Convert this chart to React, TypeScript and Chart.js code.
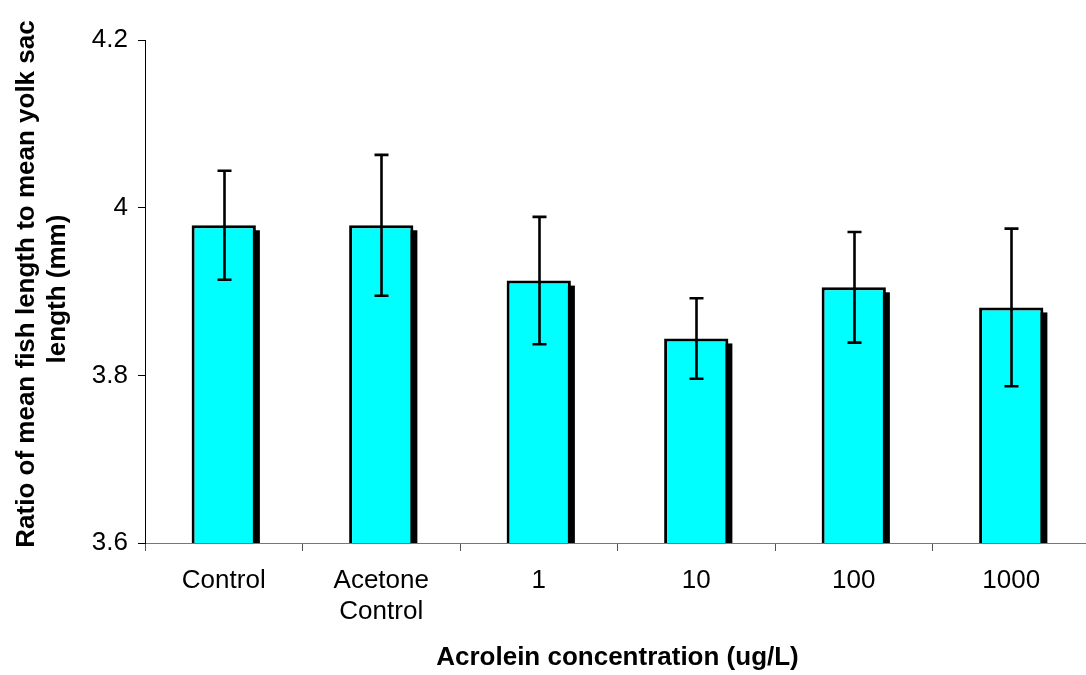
import React, { useEffect, useRef } from "react";
import { Chart, registerables } from "chart.js";

Chart.register(...registerables);

// Data
const categories: (string | string[])[] = ["Control", ["Acetone", "Control"], "1", "10", "100", "1000"];
const meanRatio = [3.979, 3.979, 3.913, 3.844, 3.905, 3.881];
const errorSize = [0.065, 0.084, 0.076, 0.048, 0.066, 0.094];
const yTicks = [3.6, 3.8, 4.0, 4.2];
const xTitle = "Acrolein concentration (ug/L)";
const yTitleLines = ["Ratio of mean fish length to mean yolk sac", "length (mm)"];

const FONT = '"Liberation Sans", Arial, sans-serif';

// Solid drop shadow behind each bar
const barShadow = {
  id: "barShadow",
  beforeDatasetsDraw(chart: any) {
    const { ctx, chartArea } = chart;
    const meta = chart.getDatasetMeta(0);
    ctx.save();
    ctx.beginPath();
    ctx.rect(chartArea.left, chartArea.top, chartArea.right - chartArea.left, chartArea.bottom - chartArea.top);
    ctx.clip();
    ctx.fillStyle = "#000";
    meta.data.forEach((bar: any) => {
      const w = bar.width;
      ctx.fillRect(bar.x - w / 2 + 4, bar.y + 5, w, bar.base - bar.y - 5);
    });
    ctx.restore();
  },
};

// Error bars with flat caps
const errorBars = {
  id: "errorBars",
  afterDatasetsDraw(chart: any) {
    const { ctx } = chart;
    const yScale = chart.scales.y;
    const meta = chart.getDatasetMeta(0);
    ctx.save();
    ctx.strokeStyle = "#000";
    ctx.lineWidth = 2.6;
    meta.data.forEach((bar: any, i: number) => {
      const x = Math.round(bar.x) + 0.5;
      const yHi = yScale.getPixelForValue(meanRatio[i] + errorSize[i]);
      const yLo = yScale.getPixelForValue(meanRatio[i] - errorSize[i]);
      ctx.beginPath();
      ctx.moveTo(x, yHi);
      ctx.lineTo(x, yLo);
      ctx.moveTo(x - 7, yHi);
      ctx.lineTo(x + 7, yHi);
      ctx.moveTo(x - 7, yLo);
      ctx.lineTo(x + 7, yLo);
      ctx.stroke();
    });
    ctx.restore();
  },
};

// Axis titles
const axisTitles = {
  id: "axisTitles",
  afterDraw(chart: any) {
    const { ctx, chartArea } = chart;
    ctx.save();
    ctx.fillStyle = "#000";
    ctx.font = `bold 26px ${FONT}`;
    ctx.textAlign = "center";
    ctx.textBaseline = "alphabetic";
    ctx.fillText(xTitle, (chartArea.left + chartArea.right) / 2, 665);

    const lineX = [34, 65];
    const lineY = [284, 289];
    yTitleLines.forEach((line, i) => {
      ctx.save();
      ctx.translate(lineX[i], lineY[i]);
      ctx.rotate(-Math.PI / 2);
      ctx.fillText(line, 0, 0);
      ctx.restore();
    });
    ctx.restore();
  },
};

export default function App() {
  const canvasRef = useRef<HTMLCanvasElement>(null);

  useEffect(() => {
    if (!canvasRef.current) return;
    const chart = new Chart(canvasRef.current, {
      type: "bar",
      data: {
        labels: categories,
        datasets: [
          {
            data: meanRatio,
            backgroundColor: "#00FFFF",
            borderColor: "#000",
            borderWidth: 3,
            borderSkipped: false,
            barPercentage: 0.408,
            categoryPercentage: 1,
          },
        ],
      },
      options: {
        animation: false,
        responsive: false,
        devicePixelRatio: 1,
        layout: { padding: { top: 40, left: 0, right: 4, bottom: 0 } },
        plugins: {
          legend: { display: false },
          tooltip: { enabled: false },
        },
        scales: {
          x: {
            grid: {
              display: true,
              offset: true,
              drawOnChartArea: false,
              drawTicks: true,
              tickLength: 8,
              color: "#555",
              lineWidth: 1,
            },
            border: { display: true, color: "#777", width: 1 },
            ticks: {
              color: "#000",
              font: { family: FONT, size: 26, lineHeight: 1.2 },
              padding: 14,
              maxRotation: 0,
              autoSkip: false,
            },
            afterFit(scale: any) {
              scale.height = 132;
            },
          },
          y: {
            min: 3.6,
            max: 4.2,
            afterBuildTicks(scale: any) {
              scale.ticks = yTicks.map((v) => ({ value: v }));
            },
            grid: {
              display: true,
              drawOnChartArea: false,
              drawTicks: true,
              tickLength: 7,
              color: "#000",
              lineWidth: 1,
            },
            border: { display: true, color: "#000", width: 1 },
            ticks: {
              color: "#000",
              font: { family: FONT, size: 26 },
              padding: 10,
              callback: (v: any) => String(Number(Number(v).toFixed(1))),
            },
            afterFit(scale: any) {
              scale.width = 145;
            },
          },
        },
      },
      plugins: [barShadow, errorBars, axisTitles],
    });
    return () => chart.destroy();
  }, []);

  return (
    <div
      style={{
        position: "absolute",
        left: 0,
        top: 0,
        width: 1086,
        height: 675,
        overflow: "hidden",
        background: "#fff",
      }}
    >
      <canvas ref={canvasRef} width={1094} height={675} style={{ display: "block", width: 1094, height: 675 }} />
    </div>
  );
}
